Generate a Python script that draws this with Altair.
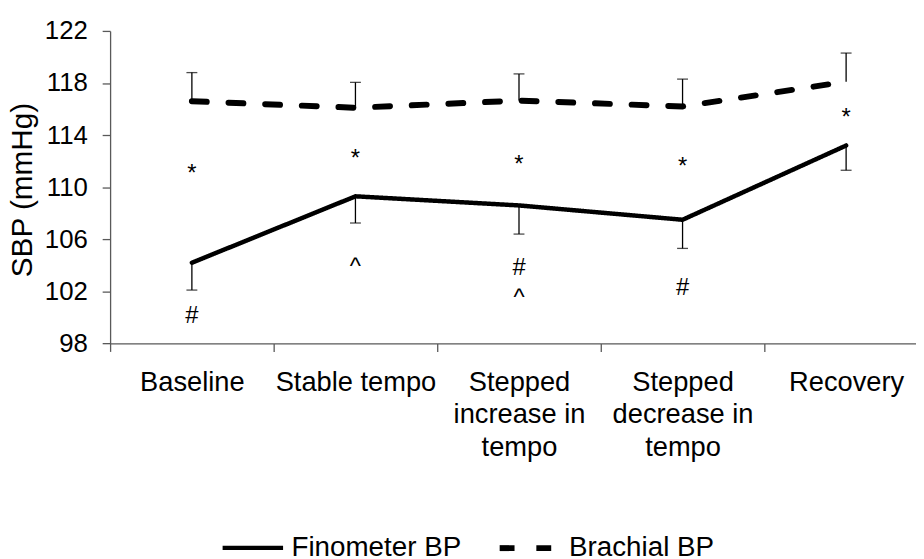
import altair as alt
import pandas as pd

# ---- data ----
categories = ["Baseline", "Stable tempo", "Stepped increase in tempo",
              "Stepped decrease in tempo", "Recovery"]
category_lines = [["Baseline"], ["Stable tempo"], ["Stepped", "increase in", "tempo"],
                  ["Stepped", "decrease in", "tempo"], ["Recovery"]]
series_names = ["Finometer BP", "Brachial BP"]
fino_mean = [104.2, 109.3, 108.6, 107.5, 113.2]
fino_sd = [2.1, 2.05, 2.2, 2.2, 1.9]
brach_mean = [116.6, 116.1, 116.65, 116.2, 118.1]
brach_sd = [2.2, 1.95, 2.05, 2.1, 2.2]
y_ticks = [98, 102, 106, 110, 114, 118, 122]

annot_cat = ["Baseline", "Baseline", "Stable tempo", "Stable tempo",
             "Stepped increase in tempo", "Stepped increase in tempo", "Stepped increase in tempo",
             "Stepped decrease in tempo", "Stepped decrease in tempo", "Recovery"]
annot_sym = ["*", "#", "*", "^", "*", "#", "^", "*", "#", "*"]
annot_y = [110.45, 99.6, 111.6, 103.35, 111.15, 103.25, 100.95, 111.0, 101.75, 114.8]

# ---- tables ----
rows = []
for i, c in enumerate(categories):
    rows.append(dict(idx=i, category=c, series=series_names[0], mean=fino_mean[i],
                     lo=fino_mean[i] - fino_sd[i], hi=fino_mean[i], cap=fino_mean[i] - fino_sd[i]))
    rows.append(dict(idx=i, category=c, series=series_names[1], mean=brach_mean[i],
                     lo=brach_mean[i], hi=brach_mean[i] + brach_sd[i], cap=brach_mean[i] + brach_sd[i]))
df = pd.DataFrame(rows)
ann = pd.DataFrame(dict(category=annot_cat, sym=annot_sym, y=annot_y))

expr = "datum.value"
for c, lines in zip(categories, category_lines):
    if len(lines) > 1:
        arr = "[" + ",".join("'" + s + "'" for s in lines) + "]"
        expr = f"datum.value == '{c}' ? {arr} : ({expr})"

FONT = "Liberation Sans"
AXC = "#595959"

xenc = alt.X("category:N", sort=categories,
             scale=alt.Scale(type="band", paddingInner=0, paddingOuter=0, range=[0, 825]),
             axis=alt.Axis(title=None, labelAngle=0, labelAlign="center", labelBaseline="top",
                           tickBand="extent", labelExpr=expr,
                           labelFont=FONT, labelFontSize=27.5, labelLineHeight=33,
                           labelColor="black", labelPadding=17, tickSize=8,
                           tickColor=AXC, domainColor=AXC, domainWidth=1.3, tickWidth=1.3,
                           grid=False, labelOverlap=False))
yscale = alt.Scale(domain=[98, 122], nice=False, zero=False)
yaxis = alt.Axis(title="SBP (mmHg)", values=y_ticks, format="d", grid=False,
                 labelFont=FONT, labelFontSize=26, labelColor="black", labelPadding=15,
                 tickSize=8, tickColor=AXC, domainColor=AXC, domainWidth=1.3, tickWidth=1.3,
                 titleFont=FONT, titleFontSize=30, titleFontWeight="normal", titleColor="black",
                 titleAngle=-90, titleAlign="center", titleBaseline="alphabetic",
                 titleX=-79.5, titleY=160)

lines = alt.Chart(df).mark_line(color="black", strokeCap="round",
                                strokeJoin="round").encode(
    x=xenc,
    y=alt.Y("mean:Q", scale=yscale, axis=yaxis),
    order=alt.Order("idx:Q"),
    strokeWidth=alt.StrokeWidth("series:N",
                                scale=alt.Scale(domain=series_names, range=[4.5, 6]),
                                legend=None),
    strokeDash=alt.StrokeDash("series:N",
                              scale=alt.Scale(domain=series_names, range=[[1, 0], [15, 22]]),
                              legend=alt.Legend(title=None, orient="none", legendX=111, legendY=488,
                                                direction="horizontal", symbolType="stroke",
                                                symbolSize=3721, symbolStrokeWidth=4.5,
                                                symbolStrokeColor="black",
                                                labelFont=FONT, labelFontSize=28, labelColor="black",
                                                labelOffset=6, columnPadding=26, padding=0,
                                                labelLimit=400)),
)

rules = alt.Chart(df).mark_rule(color="black", strokeWidth=1.3).encode(
    x=alt.X("category:N", sort=categories), y="lo:Q", y2="hi:Q")

caps = alt.Chart(df).mark_tick(color="black", size=11, thickness=1.3).encode(
    x=alt.X("category:N", sort=categories), y="cap:Q")

texts = alt.Chart(ann).mark_text(font=FONT, fontSize=24, color="black", align="center",
                                 baseline="alphabetic").encode(
    x=alt.X("category:N", sort=categories), y="y:Q", text="sym:N")

chart = alt.layer(rules, caps, lines, texts).properties(
    width=813, height=315.3,
    autosize=alt.AutoSizeParams(type="none"),
    padding={"left": 103, "top": 20.7, "right": 0, "bottom": 215},
    background="white",
).configure_view(stroke=None)

chart.save("out.html", embed_options={"renderer": "svg", "actions": False})
